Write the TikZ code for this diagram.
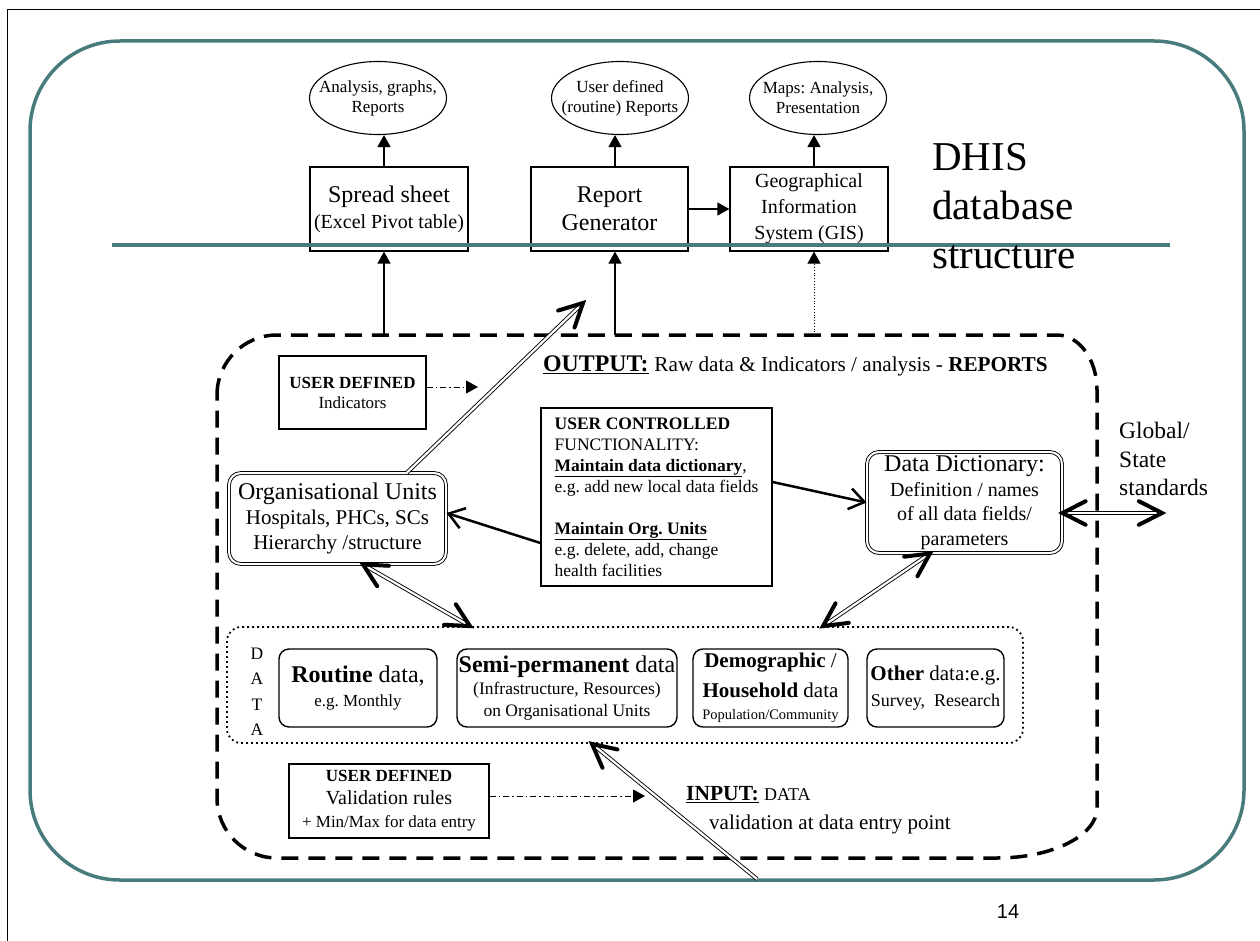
\documentclass[tikz,border=0pt]{standalone}
\usepackage{fontspec}
\setmainfont{Liberation Serif}
\newfontfamily\arialf{Liberation Sans}
\usetikzlibrary{arrows.meta,calc,shapes.geometric}
\definecolor{slateteal}{RGB}{72,124,124}
\newcommand{\fsz}[2]{\fontsize{#1pt}{#2pt}\selectfont}
% open thick barb drawn at #1, pointing away from #2
\newcommand{\barbtip}[2]{\draw[barbline] ($(#1)!26pt!27:(#2)$) -- (#1) -- ($(#1)!26pt!-27:(#2)$);}
\frenchspacing

\begin{document}
\begin{tikzpicture}[x=1pt,y=-1pt,
  ell/.style={ellipse, draw, line width=1.1pt, minimum width=137pt, minimum height=73pt, inner sep=0pt},
  elltext/.style={align=center, inner sep=0pt, font=\fsz{17}{20}},
  bx/.style={draw, line width=1.2pt, align=center, inner sep=1pt},
  dbx/.style={draw, line width=0.9pt, double, double distance=2pt, rounded corners=12pt, align=center, inner sep=1pt},
  rbx/.style={draw, line width=1.4pt, rounded corners=10pt, align=center, inner sep=1pt, minimum height=78pt},
  arr/.style={line width=1.2pt, -{Triangle[length=12pt,width=13pt]}},
  ddarr/.style={line width=1pt, dash pattern=on 6pt off 3pt on 1.5pt off 3pt, -{Triangle[length=12pt,width=13pt]}},
  barbarr/.style={line width=2.5pt, -{Straight Barb[length=15pt,width=21pt]}},
  dbl/.style={line width=0.9pt, double, double distance=2.2pt},
  barbline/.style={line width=4pt, line cap=round, line join=miter},
  tealline/.style={draw=slateteal, line width=3.5pt},
  coreline/.style={line width=3.5pt, dash pattern=on 17pt off 10pt},
]
\useasboundingbox (0,0) rectangle (1260,941);

% page frame and slide panel
\draw[line width=1pt] (7,941) -- (7,10) -- (1260,10);
\draw[slateteal, line width=3.5pt, rounded corners=90pt] (30,41) rectangle (1244,880);

% output products
\node[ell] (e1) at (378,98) {};
\node[elltext] (e1t) at (e1) {Analysis, graphs,\\Reports};
\node[ell] (e2) at (620,98) {};
\node[elltext] (e2t) at (e2) {User defined\\(routine) Reports};
\node[ell] (e3) at (818,98) {};
\node[elltext] (e3t) at (e3) {Maps: Analysis,\\Presentation};

% output tools
\node[bx, minimum width=158pt, minimum height=84pt, font=\fsz{24}{26}] (ss) at (389,209) {Spread sheet\\{\fsz{20}{24}(Excel Pivot table)}};
\node[bx, minimum width=157pt, minimum height=84pt, font=\fsz{24}{28}] (rg) at (609.5,209) {Report\\Generator};
\node[bx, minimum width=158pt, minimum height=84pt, font=\fsz{20}{26}] (gis) at (809,209) {Geographical\\Information\\System (GIS)};

\draw[tealline] (112,245) -- (1170,245);

\node[anchor=north west, align=left, inner sep=0pt, font=\fsz{41}{49}] (title) at (932,143) {DHIS\\database\\structure};

\coordinate (c1) at (384,0);
\coordinate (c2) at (615,0);
\coordinate (c3) at (814,0);

% database core: dashed outline with unequal corner rounding
\node[minimum width=880pt, minimum height=523pt, inner sep=0pt, outer sep=0pt] (core) at (657,596.5) {};
\draw[coreline] ([yshift=-60pt]core.north west) arc[start angle=180, end angle=90, radius=60pt]
  -- ([xshift=-40pt]core.north east) arc[start angle=90, end angle=0, x radius=40pt, y radius=55pt]
  -- ([yshift=50pt]core.south east) arc[start angle=0, end angle=-90, x radius=100pt, y radius=50pt]
  -- ([xshift=60pt]core.south west) arc[start angle=270, end angle=180, radius=60pt]
  -- cycle;

\draw[arr] (core.north -| c1) -- (ss.south -| c1);
\draw[arr] (core.north -| c2) -- (rg.south -| c2);
\draw[arr, line width=0.8pt, dotted] (core.north -| c3) -- (gis.south -| c3);
\draw[arr] (ss.north -| c1) -- (e1.south -| c1);
\draw[arr] (rg.north -| c2) -- (e2.south -| c2);
\draw[arr] (gis.north -| c3) -- (e3.south -| c3);
\draw[arr] (rg.east) -- (gis.west);

\node[anchor=base west, inner sep=0pt] (outl) at (543,371) {\fsz{23.8}{26}\underline{\textbf{OUTPUT:}} \fsz{21.2}{24}Raw data \& Indicators / analysis - \textbf{REPORTS}};

\node[bx, minimum width=147pt, minimum height=73pt, font=\fsz{17}{20}] (udi) at (352.5,392.5) {\textbf{USER DEFINED}\\Indicators};
\coordinate (udtip) at (478,387);
\draw[ddarr] (udi.east |- udtip) -- (udtip);

\node[bx, minimum width=231pt, minimum height=178pt, align=left, font=\fsz{17.5}{21}] (ucf) at (656.5,497) {\textbf{USER CONTROLLED}\\FUNCTIONALITY:\\\underline{\textbf{Maintain data dictionary}},\\e.g. add new local data fields\\[21pt]\underline{\textbf{Maintain Org. Units}}\\e.g. delete, add, change\\health facilities};

\node[dbx, minimum width=217pt, minimum height=91pt, font=\fsz{21}{25}] (ou) at (337.5,518.5) {{\fsz{24}{26}Organisational Units}\\Hospitals, PHCs, SCs\\Hierarchy /structure};
\node[dbx, minimum width=195pt, minimum height=101pt, font=\fsz{20}{24.5}] (dd) at (964.5,502.5) {{\fsz{24}{26}Data Dictionary:}\\Definition / names\\of all data fields/\\parameters};

\node[anchor=north west, align=left, inner sep=0pt, font=\fsz{23.5}{28.5}] (gst) at (1119,422) {Global/\\State\\standards};

% data stores
\node[draw, line width=1.8pt, dash pattern=on 1.8pt off 3.2pt, rounded corners=14pt, minimum width=796pt, minimum height=116pt, inner sep=0pt] (dat) at (625,685) {};
\node[align=center, inner sep=0pt, font=\fsz{17.5}{25.5}] (datl) at (257,692) {D\\A\\T\\A};
\node[rbx, minimum width=158pt, font=\fsz{17}{24}] (rt) at (358,688) {{\fsz{24}{26}\textbf{Routine} data,}\\e.g. Monthly};
\node[rbx, minimum width=220pt, inner xsep=0pt, font=\fsz{17.5}{22}] (sp) at (567,688) {{\fsz{24}{26}\textbf{Semi-permanent} data}\\(Infrastructure, Resources)\\on Organisational Units};
\node[rbx, minimum width=155pt, font=\fsz{21}{26}] (dm) at (770.5,688) {\textbf{Demographic} /\\[4pt]\textbf{Household} data\\[-4pt]{\fsz{14.5}{17}Population/Community}};
\node[rbx, minimum width=137pt, inner xsep=0pt, font=\fsz{18}{26}] (ot) at (935.5,688) {{\fsz{21}{24}\textbf{Other} data:e.g.}\\Survey,\ \ Research};

\node[bx, minimum width=200pt, minimum height=74pt, font=\fsz{17}{23}] (vr) at (389,801) {\textbf{USER DEFINED}\\{\fsz{20}{23}Validation rules}\\+ Min/Max for data entry};
\coordinate (vrtip) at (645,796);
\draw[ddarr] (vr.east |- vrtip) -- (vrtip);

\node[anchor=base west, inner sep=0pt] (inl) at (686,800) {\fsz{21.5}{24}\underline{\textbf{INPUT:}} \fsz{18}{22}DATA};
\node[anchor=base west, inner sep=0pt, font=\fsz{21}{24}] (inl2) at (709,829) {validation at data entry point};

\node[anchor=base, inner sep=0pt, font=\arialf\fsz{20}{24}] (pg) at (1008,918) {14};

% maintenance links
\draw[barbarr] ([yshift=15pt]ucf.east) -- (dd.west);
\draw[barbarr] ([yshift=-46pt]ucf.west) -- ([yshift=5.5pt]ou.east);

% double-line flows
\coordinate (aA) at ([xshift=69.5pt]ou.north);
\coordinate (tA) at (583,303);
\draw[dbl] (aA) -- (tA);
\barbtip{tA}{aA}

\coordinate (bA) at ([xshift=25.5pt]ou.south);
\coordinate (bB) at ([xshift=-155pt]dat.north);
\draw[dbl] (bA) -- (bB);
\barbtip{bA}{bB}
\barbtip{bB}{bA}

\coordinate (cA) at ([xshift=-34.5pt]dd.south);
\coordinate (cB) at ([xshift=198pt]dat.north);
\draw[dbl] (cA) -- (cB);
\barbtip{cA}{cB}
\barbtip{cB}{cA}

\coordinate (inp) at (757,879);
\coordinate (dB) at ([xshift=-33pt]dat.south);
\draw[dbl] (inp) -- (dB);
\barbtip{dB}{inp}

\coordinate (eA) at ([yshift=-10.5pt]dd.east);
\coordinate (gs) at (1162,513);
\draw[dbl] (eA) -- (gs);
\barbtip{eA}{gs}
\barbtip{gs}{eA}
\end{tikzpicture}
\end{document}
